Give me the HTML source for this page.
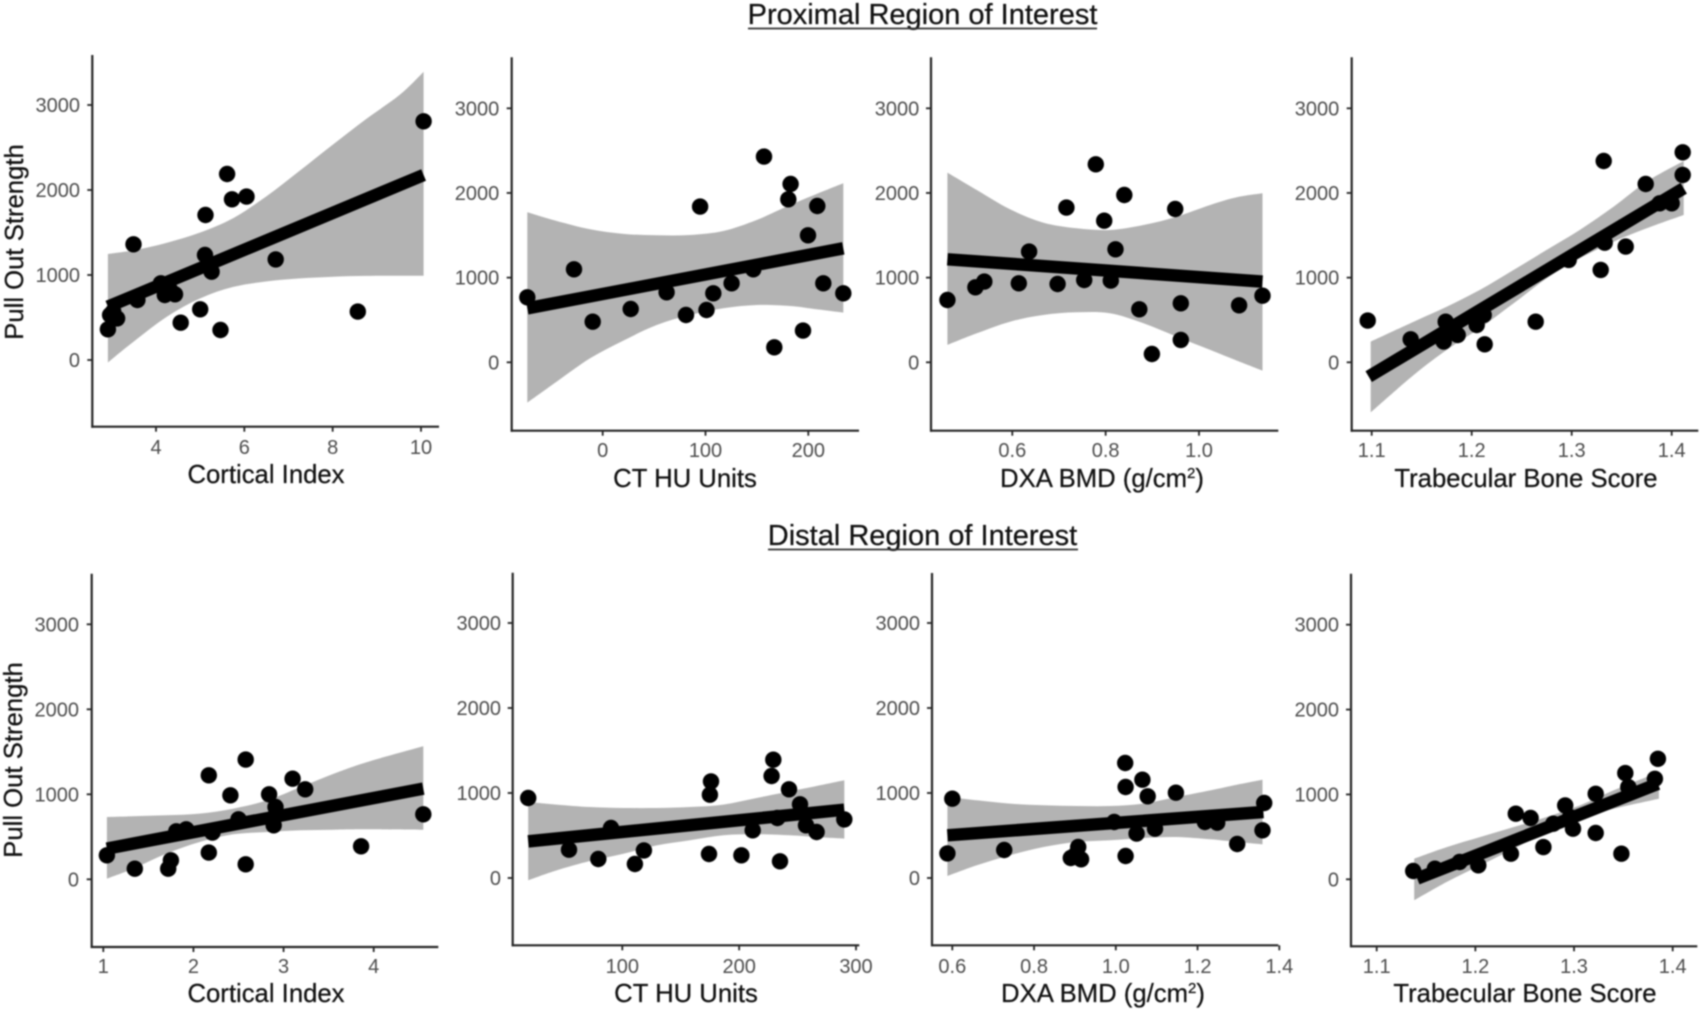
<!DOCTYPE html>
<html>
<head>
<meta charset="utf-8">
<title>Pull Out Strength vs Bone Quality Measures</title>
<style>
html,body{margin:0;padding:0;background:#fff;}
svg{display:block;filter:blur(0.7px);}
text{font-family:"Liberation Sans",Arial,sans-serif;}
.title{font-size:29px;fill:#111;text-anchor:middle;stroke:#111;stroke-width:0.25px;}
.axis-title{font-size:25.7px;fill:#111;text-anchor:middle;stroke:#111;stroke-width:0.25px;}
</style>
</head>
<body>
<svg id="figure" xmlns="http://www.w3.org/2000/svg" width="1702" height="1012" viewBox="0 0 1702 1012">
  <rect width="1702" height="1012" fill="#fff"/>
  <text class="title" x="922.5" y="24">Proximal Region of Interest</text>
  <line x1="748" x2="1097" y1="28.5" y2="28.5" stroke="#333" stroke-width="1.8"/>
  <text class="title" x="922.5" y="545">Distal Region of Interest</text>
  <line x1="768" x2="1078" y1="549.5" y2="549.5" stroke="#333" stroke-width="1.8"/>

  <text class="axis-title" transform="translate(23,242) rotate(-90)">Pull Out Strength</text>
  <text class="axis-title" transform="translate(22,760) rotate(-90)">Pull Out Strength</text>

  <text class="axis-title" x="266" y="483">Cortical Index</text>
  <text class="axis-title" x="685" y="487">CT HU Units</text>
  <text class="axis-title" x="1102" y="487">DXA BMD (g/cm<tspan font-size="15" dy="-9">2</tspan><tspan dy="9">)</tspan></text>
  <text class="axis-title" x="1526" y="487">Trabecular Bone Score</text>

  <text class="axis-title" x="266" y="1002">Cortical Index</text>
  <text class="axis-title" x="686" y="1002">CT HU Units</text>
  <text class="axis-title" x="1103" y="1002">DXA BMD (g/cm<tspan font-size="15" dy="-9">2</tspan><tspan dy="9">)</tspan></text>
  <text class="axis-title" x="1525" y="1002">Trabecular Bone Score</text>
</svg>
<script>
// ---------- shared y axis values ----------
const yTickValues = [0, 1000, 2000, 3000];
const yTickLabels = ["0", "1000", "2000", "3000"];

// ---------- proximal: cortical index ----------
const pcTicks = [4, 6, 8, 10];
const pcTickLabels = ["4", "6", "8", "10"];
const pcX = [2.91, 2.96, 3.12, 3.03, 3.58, 3.49, 4.11, 4.20, 4.43, 4.32, 4.56, 5.00, 5.12, 5.11, 5.26, 5.18, 5.46, 5.61, 5.72, 6.05, 6.71, 8.57, 10.06];
const pcY = [361, 529, 490, 569, 706, 1361, 902, 765, 773, 824, 439, 596, 1706, 1235, 1039, 1137, 353, 2188, 1890, 1922, 1184, 569, 2808];
const pcLineX = [2.91, 10.06];
const pcLineY = [627, 2176];
const pcBandX = [2.91, 3.49, 4.25, 5.00, 5.75, 6.51, 7.26, 8.02, 8.77, 9.52, 10.06];
const pcBandUpper = [1247, 1290, 1380, 1500, 1670, 1930, 2230, 2540, 2840, 3120, 3390];
const pcBandLower = [-31, 215, 510, 725, 860, 925, 960, 980, 990, 992, 992];

// ---------- proximal: CT HU ----------
const phTicks = [0, 100, 200];
const phTickLabels = ["0", "100", "200"];
const phX = [-73.3, -27.9, -9.7, 27.2, 62.2, 81, 94.7, 101, 107.6, 125.4, 146.5, 156.9, 166.9, 180.5, 182.8, 194.8, 199.7, 208.8, 214.6, 234];
const phY = [768, 1098, 480, 630, 827, 559, 1839, 618, 815, 933, 1098, 2429, 177, 1925, 2106, 374, 1500, 1846, 933, 815];
const phLineX = [-73.3, 234];
const phLineY = [638, 1346];
const phBandX = [-73.3, -44.7, -12.3, 20.1, 52.5, 84.9, 117.3, 149.8, 182.2, 208.1, 234];
const phBandUpper = [1772, 1669, 1571, 1516, 1500, 1504, 1551, 1681, 1858, 1988, 2114];
const phBandLower = [-476, -228, 47, 256, 441, 559, 638, 677, 665, 626, 587];

// ---------- proximal: DXA BMD ----------
const pdTicks = [0.6, 0.8, 1.0];
const pdTickLabels = ["0.6", "0.8", "1.0"];
const pdX = [0.461, 0.521, 0.54, 0.614, 0.636, 0.697, 0.716, 0.754, 0.779, 0.797, 0.811, 0.821, 0.84, 0.872, 0.899, 0.949, 0.961, 0.961, 1.086, 1.136];
const pdY = [736, 886, 953, 933, 1307, 925, 1827, 972, 2339, 1673, 965, 1335, 1976, 626, 98, 1811, 264, 697, 673, 787];
const pdLineX = [0.461, 1.136];
const pdLineY = [1217, 953];
const pdBandX = [0.461, 0.524, 0.595, 0.666, 0.738, 0.809, 0.881, 0.952, 1.024, 1.081, 1.136];
const pdBandUpper = [2240, 2035, 1807, 1650, 1583, 1563, 1622, 1720, 1858, 1949, 1996];
const pdBandLower = [205, 343, 480, 559, 591, 579, 461, 303, 146, 20, -98];

// ---------- proximal: trabecular bone score ----------
const ptTicks = [1.1, 1.2, 1.3, 1.4];
const ptTickLabels = ["1.1", "1.2", "1.3", "1.4"];
const ptX = [1.096, 1.139, 1.174, 1.172, 1.177, 1.186, 1.205, 1.212, 1.213, 1.264, 1.297, 1.329, 1.332, 1.333, 1.354, 1.374, 1.388, 1.40, 1.411, 1.411];
const ptY = [492, 272, 480, 244, 382, 323, 441, 559, 213, 480, 1209, 1091, 2378, 1413, 1366, 2106, 1878, 1878, 2480, 2213];
const ptLineX = [1.097, 1.412];
const ptLineY = [-169, 2055];
const ptBandX = [1.099, 1.142, 1.175, 1.208, 1.242, 1.275, 1.308, 1.342, 1.375, 1.412];
const ptBandUpper = [244, 480, 657, 854, 1091, 1327, 1563, 1839, 2134, 2378];
const ptBandLower = [-591, -150, 146, 402, 697, 992, 1228, 1425, 1583, 1740];

// ---------- distal: cortical index ----------
const dcTicks = [1, 2, 3, 4];
const dcTickLabels = ["1", "2", "3", "4"];
const dcX = [1.04, 1.35, 1.72, 1.75, 1.81, 1.92, 2.17, 2.17, 2.21, 2.41, 2.50, 2.58, 2.58, 2.84, 2.91, 2.89, 2.91, 3.10, 3.24, 3.86, 4.55];
const dcY = [282, 125, 125, 224, 565, 588, 1224, 314, 549, 988, 706, 1408, 176, 1000, 851, 635, 753, 1184, 1059, 388, 765];
const dcLineX = [1.04, 4.55];
const dcLineY = [361, 1067];
const dcBandX = [1.04, 1.33, 1.70, 2.07, 2.44, 2.82, 3.19, 3.56, 3.93, 4.55];
const dcBandUpper = [733, 741, 753, 773, 831, 929, 1086, 1243, 1380, 1565];
const dcBandLower = [8, 125, 302, 439, 529, 557, 576, 584, 588, 584];

// ---------- distal: CT HU ----------
const dhTicks = [100, 200, 300];
const dhTickLabels = ["100", "200", "300"];
const dhX = [19.5, 54.4, 79.5, 90.3, 110.8, 118.5, 174.2, 175, 175.9, 201.9, 211.6, 227.8, 229.2, 232.7, 235, 242.7, 252.1, 257.2, 266.3, 290];
const dhY = [941, 333, 224, 588, 165, 325, 282, 980, 1137, 267, 561, 1200, 1392, 706, 196, 1043, 867, 620, 541, 690];
const dhLineX = [19.5, 290];
const dhLineY = [431, 804];
const dhBandX = [19.5, 43.8, 72.3, 100.9, 129.4, 157.9, 186.4, 215, 243.5, 266.3, 290];
const dhBandUpper = [894, 863, 835, 824, 824, 835, 863, 941, 1020, 1082, 1149];
const dhBandLower = [-27, 90, 200, 286, 384, 443, 502, 514, 502, 482, 463];

// ---------- distal: DXA BMD ----------
const ddTicks = [0.6, 0.8, 1.0, 1.2, 1.4];
const ddTickLabels = ["0.6", "0.8", "1.0", "1.2", "1.4"];
const ddX = [0.588, 0.6, 0.727, 0.89, 0.908, 0.915, 0.90, 0.996, 1.023, 1.024, 1.024, 1.051, 1.065, 1.078, 1.096, 1.147, 1.218, 1.248, 1.297, 1.359, 1.363];
const ddY = [290, 933, 329, 235, 365, 220, 267, 659, 1353, 259, 1071, 522, 1157, 961, 580, 1004, 659, 651, 400, 561, 882];
const ddLineX = [0.588, 1.361];
const ddLineY = [502, 776];
const ddBandX = [0.588, 0.66, 0.741, 0.823, 0.904, 0.986, 1.067, 1.149, 1.231, 1.296, 1.359];
const ddBandUpper = [953, 914, 875, 855, 847, 847, 875, 953, 1031, 1098, 1157];
const ddBandLower = [24, 149, 267, 365, 424, 443, 471, 482, 455, 424, 396];

// ---------- distal: trabecular bone score ----------
const dtTicks = [1.1, 1.2, 1.3, 1.4];
const dtTickLabels = ["1.1", "1.2", "1.3", "1.4"];
const dtX = [1.137, 1.159, 1.184, 1.203, 1.236, 1.241, 1.256, 1.269, 1.279, 1.291, 1.299, 1.296, 1.322, 1.322, 1.348, 1.352, 1.355, 1.382, 1.385];
const dtY = [98, 125, 204, 165, 302, 773, 722, 380, 655, 871, 596, 733, 545, 1008, 302, 1251, 1086, 1184, 1420];
const dtLineX = [1.141, 1.385];
const dtLineY = [8, 1125];
const dtBandX = [1.138, 1.171, 1.205, 1.239, 1.272, 1.306, 1.34, 1.386];
const dtBandUpper = [243, 380, 498, 616, 733, 871, 1047, 1263];
const dtBandLower = [-247, -31, 165, 361, 557, 714, 831, 949];

const SVG_NS = "http://www.w3.org/2000/svg";
const figure = document.getElementById("figure");

function make(tag, attrs, parent) {
  const el = document.createElementNS(SVG_NS, tag);
  for (const k in attrs) el.setAttribute(k, attrs[k]);
  parent.appendChild(el);
  return el;
}

function linearScale(d0, d1, r0, r1) {
  return function (v) { return r0 + (v - d0) / (d1 - d0) * (r1 - r0); };
}

// Catmull-Rom spline segments through screen points
function curveThrough(pts) {
  let d = "";
  for (let i = 0; i < pts.length - 1; i++) {
    const p0 = pts[Math.max(i - 1, 0)], p1 = pts[i], p2 = pts[i + 1], p3 = pts[Math.min(i + 2, pts.length - 1)];
    const c1x = p1[0] + (p2[0] - p0[0]) / 6, c1y = p1[1] + (p2[1] - p0[1]) / 6;
    const c2x = p2[0] - (p3[0] - p1[0]) / 6, c2y = p2[1] - (p3[1] - p1[1]) / 6;
    d += "C" + c1x.toFixed(1) + " " + c1y.toFixed(1) + " " + c2x.toFixed(1) + " " + c2y.toFixed(1) + " " + p2[0].toFixed(1) + " " + p2[1].toFixed(1);
  }
  return d;
}

function drawPanel(p) {
  const sx = linearScale(p.xd[0], p.xd[1], p.xr[0], p.xr[1]);
  const sy = linearScale(0, 3000, p.y0, p.y3000);

  const g = make("g", {}, figure);
  
  

  // confidence band
  const top = p.bandX.map(function (x, i) { return [sx(x), sy(p.bandUpper[i])]; });
  const bottom = p.bandX.map(function (x, i) { return [sx(x), sy(p.bandLower[i])]; }).reverse();
  const bandPath = "M" + top[0][0].toFixed(1) + " " + top[0][1].toFixed(1) + curveThrough(top) +
    "L" + bottom[0][0].toFixed(1) + " " + bottom[0][1].toFixed(1) + curveThrough(bottom) + "Z";
  const band = make("path", { d: bandPath, fill: "#b3b3b3" }, g);
  
  

  // points
  p.x.forEach(function (x, i) {
    const c = make("circle", { cx: sx(x).toFixed(1), cy: sy(p.y[i]).toFixed(1), r: 8.2, fill: "#000" }, g);
    
    
  });

  // regression line
  const fit = make("line", {
    x1: sx(p.lineX[0]).toFixed(1), y1: sy(p.lineY[0]).toFixed(1),
    x2: sx(p.lineX[1]).toFixed(1), y2: sy(p.lineY[1]).toFixed(1),
    stroke: "#000", "stroke-width": 12.5
  }, g);
  
  

  // axes
  const axisColor = "#262626";
  const yAxis = make("line", { x1: p.axisX, x2: p.axisX, y1: p.top, y2: p.bottom + 1, stroke: axisColor, "stroke-width": 2.2 }, g);
  
  
  const xAxis = make("line", { x1: p.axisX - 1, x2: p.right, y1: p.bottom, y2: p.bottom, stroke: axisColor, "stroke-width": 2.2 }, g);
  
  

  // y ticks
  yTickValues.forEach(function (v, i) {
    const y = sy(v);
    const t = make("line", { x1: p.axisX - 5, x2: p.axisX, y1: y, y2: y, stroke: axisColor, "stroke-width": 1.8 }, g);
    
    
    const label = make("text", { x: p.yLabelX, y: y + 7, "text-anchor": "end", "font-size": 20, fill: "#4d4d4d" }, g);
    
    
    label.textContent = yTickLabels[i];
  });

  // x ticks
  p.xTicks.forEach(function (v, i) {
    const x = sx(v);
    const t = make("line", { x1: x, x2: x, y1: p.bottom, y2: p.bottom + 5, stroke: axisColor, "stroke-width": 1.8 }, g);
    
    
    const label = make("text", { x: x, y: p.xLabelY, "text-anchor": "middle", "font-size": 20, fill: "#4d4d4d" }, g);
    
    
    label.textContent = p.xTickLabels[i];
  });
}

drawPanel({ name: "proximal-cortical", xd: [4, 10], xr: [156, 421], y0: 360, y3000: 105, axisX: 92.3, top: 55, bottom: 426.7, right: 439, yLabelX: 80, xLabelY: 454,
  xTicks: pcTicks, xTickLabels: pcTickLabels, x: pcX, y: pcY, lineX: pcLineX, lineY: pcLineY, bandX: pcBandX, bandUpper: pcBandUpper, bandLower: pcBandLower });
drawPanel({ name: "proximal-ct", xd: [0, 200], xr: [602.7, 808.3], y0: 362.3, y3000: 108.3, axisX: 511.7, top: 57.3, bottom: 430.7, right: 859, yLabelX: 499.3, xLabelY: 457,
  xTicks: phTicks, xTickLabels: phTickLabels, x: phX, y: phY, lineX: phLineX, lineY: phLineY, bandX: phBandX, bandUpper: phBandUpper, bandLower: phBandLower });
drawPanel({ name: "proximal-dxa", xd: [0.6, 1.0], xr: [1012.3, 1199], y0: 362.3, y3000: 108.3, axisX: 931, top: 57.3, bottom: 430.7, right: 1278.3, yLabelX: 919.3, xLabelY: 457,
  xTicks: pdTicks, xTickLabels: pdTickLabels, x: pdX, y: pdY, lineX: pdLineX, lineY: pdLineY, bandX: pdBandX, bandUpper: pdBandUpper, bandLower: pdBandLower });
drawPanel({ name: "proximal-tbs", xd: [1.1, 1.4], xr: [1371.7, 1671.7], y0: 362.3, y3000: 108.3, axisX: 1351.7, top: 57.3, bottom: 430.7, right: 1698.3, yLabelX: 1339.3, xLabelY: 457,
  xTicks: ptTicks, xTickLabels: ptTickLabels, x: ptX, y: ptY, lineX: ptLineX, lineY: ptLineY, bandX: ptBandX, bandUpper: ptBandUpper, bandLower: ptBandLower });
drawPanel({ name: "distal-cortical", xd: [1, 4], xr: [103.3, 373.7], y0: 879.3, y3000: 624.3, axisX: 91.7, top: 573.7, bottom: 947, right: 438.3, yLabelX: 79, xLabelY: 973,
  xTicks: dcTicks, xTickLabels: dcTickLabels, x: dcX, y: dcY, lineX: dcLineX, lineY: dcLineY, bandX: dcBandX, bandUpper: dcBandUpper, bandLower: dcBandLower });
drawPanel({ name: "distal-ct", xd: [100, 300], xr: [622.3, 856], y0: 878, y3000: 623, axisX: 512.7, top: 572.7, bottom: 945.3, right: 859.3, yLabelX: 501, xLabelY: 973,
  xTicks: dhTicks, xTickLabels: dhTickLabels, x: dhX, y: dhY, lineX: dhLineX, lineY: dhLineY, bandX: dhBandX, bandUpper: dhBandUpper, bandLower: dhBandLower });
drawPanel({ name: "distal-dxa", xd: [0.6, 1.4], xr: [952.3, 1279.3], y0: 878, y3000: 623, axisX: 932, top: 573, bottom: 945.3, right: 1278.3, yLabelX: 920, xLabelY: 973,
  xTicks: ddTicks, xTickLabels: ddTickLabels, x: ddX, y: ddY, lineX: ddLineX, lineY: ddLineY, bandX: ddBandX, bandUpper: ddBandUpper, bandLower: ddBandLower });
drawPanel({ name: "distal-tbs", xd: [1.1, 1.4], xr: [1376.7, 1672.7], y0: 879.3, y3000: 624.7, axisX: 1351, top: 573.7, bottom: 946.3, right: 1697.3, yLabelX: 1339, xLabelY: 973,
  xTicks: dtTicks, xTickLabels: dtTickLabels, x: dtX, y: dtY, lineX: dtLineX, lineY: dtLineY, bandX: dtBandX, bandUpper: dtBandUpper, bandLower: dtBandLower });
</script>
</body>
</html>
